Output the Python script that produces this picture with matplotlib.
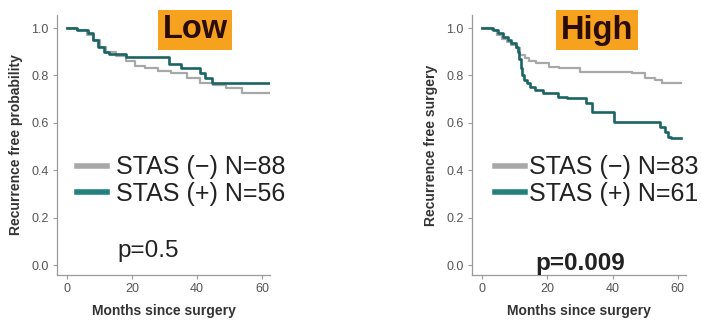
import matplotlib
matplotlib.use("Agg")
import matplotlib.pyplot as plt
from matplotlib.lines import Line2D

plt.rcParams['font.family'] = ['Liberation Sans', 'DejaVu Sans']

# ---- data ----
low_neg_t = [0, 3, 6, 8, 10, 12, 15, 18, 21, 24, 28, 32, 37, 41, 45, 49, 54, 62.5]
low_neg_s = [1.0, 0.99, 0.97, 0.95, 0.92, 0.90, 0.88, 0.86, 0.84, 0.83, 0.82, 0.81, 0.79, 0.77, 0.76, 0.745, 0.727, 0.727]
low_pos_t = [0, 3, 6.5, 8, 9.5, 11.5, 13, 18, 31.5, 35, 41, 42.5, 44.5, 62.5]
low_pos_s = [1.0, 0.99, 0.98, 0.95, 0.92, 0.90, 0.89, 0.876, 0.85, 0.83, 0.81, 0.79, 0.77, 0.77]

high_neg_t = [0, 3, 4.5, 6, 7.5, 9, 10.5, 11.5, 13, 14.5, 16.5, 20.5, 23.5, 30, 46, 50, 53, 55, 61]
high_neg_s = [1.0, 0.99, 0.97, 0.955, 0.94, 0.928, 0.914, 0.886, 0.872, 0.86, 0.854, 0.837, 0.83, 0.816, 0.809, 0.788, 0.78, 0.767, 0.767]
high_pos_t = [0, 3.3, 4.8, 6.3, 7.8, 9, 10.4, 10.9, 11.3, 11.8, 12.3, 12.8, 13.8, 14.8, 16.3, 18.8, 23.3, 26,
              31.7, 33.7, 40.3, 54.6, 56, 57, 58, 61]
high_pos_s = [1.0, 0.99, 0.978, 0.963, 0.95, 0.935, 0.92, 0.90, 0.87, 0.83, 0.80, 0.78, 0.767, 0.753, 0.738, 0.724, 0.71, 0.703,
              0.683, 0.647, 0.605, 0.584, 0.562, 0.541, 0.535, 0.535]

panels = ["Low", "High"]
ylabels = ["Recurrence free probability", "Recurrence free surgery"]
legend_labels = [["STAS (\u2212) N=88", "STAS (+) N=56"], ["STAS (\u2212) N=83", "STAS (+) N=61"]]
pvalues = ["p=0.5", "p=0.009"]
xticks = [0, 20, 40, 60]
yticks = [0.0, 0.2, 0.4, 0.6, 0.8, 1.0]

GRAY = "#a8a8a8"
TEAL = "#1a6464"
TEAL_LEG = "#23807e"
ORANGE = "#f7a21e"

fig = plt.figure(figsize=(7.01, 3.22), dpi=100)
W, H = 701, 322

def axes_px(x0, x1, ytop, ybot):
    return fig.add_axes([x0 / W, 1 - ybot / H, (x1 - x0) / W, (ybot - ytop) / H])

ax1 = axes_px(57, 270, 15, 275)
ax2 = axes_px(472, 686, 15, 275)

data = [((low_neg_t, low_neg_s), (low_pos_t, low_pos_s)),
        ((high_neg_t, high_neg_s), (high_pos_t, high_pos_s))]

for i, ax in enumerate([ax1, ax2]):
    (nt, ns), (pt, ps) = data[i]
    ax.step(nt, ns, where='post', color=GRAY, lw=1.6)
    ax.step(pt, ps, where='post', color=TEAL, lw=1.9)
    ax.set_xlim(-3.1, 62.5)
    ax.set_ylim(-0.042, 1.055)
    ax.set_xticks(xticks)
    ax.set_yticks(yticks)
    ax.set_yticklabels([f"{v:.1f}" for v in yticks])
    for s in ['top', 'right']:
        ax.spines[s].set_visible(False)
    for s in ['left', 'bottom']:
        ax.spines[s].set_color('#9a9a9a')
        ax.spines[s].set_linewidth(0.9)
    ax.tick_params(length=3, width=0.8, color='#9a9a9a', labelcolor='#555555', labelsize=9, pad=3)
    ax.set_xlabel("Months since surgery", fontsize=10, fontweight='bold', color='#333333', labelpad=6)
    ax.set_ylabel(ylabels[i], fontsize=10, fontweight='bold', color='#333333', labelpad=6)
    handles = [Line2D([], [], color=GRAY, lw=4), Line2D([], [], color=TEAL_LEG, lw=4)]
    anchor_x = 0.094 if i == 0 else 0.107
    leg = ax.legend(handles, legend_labels[i], loc='upper left', bbox_to_anchor=(anchor_x, 0.46),
                    frameon=False, fontsize=18, handlelength=1.2, handletextpad=0.35 if i == 0 else 0.15,
                    labelspacing=0.1, borderpad=0, borderaxespad=0)
    for t in leg.get_texts():
        t.set_color('#222222')
    px = 0.286 if i == 0 else 0.294
    py = 0.092 if i == 0 else 0.046
    ax.text(px, py, pvalues[i], transform=ax.transAxes, fontsize=17.5,
            fontweight='normal' if i == 0 else 'bold', color='#222222', va='center', ha='left')

# panel titles
fig.text(195 / W, 1 - 30 / H, "Low", fontsize=23.5, fontweight='bold', color='#2a0c02',
         ha='center', va='center',
         bbox=dict(boxstyle='square,pad=0.14', facecolor=ORANGE, edgecolor='none'))
fig.text(597 / W, 1 - 30 / H, "High", fontsize=23.5, fontweight='bold', color='#2a0c02',
         ha='center', va='center',
         bbox=dict(boxstyle='square,pad=0.14', facecolor=ORANGE, edgecolor='none'))

fig.savefig("out.png", dpi=100)
